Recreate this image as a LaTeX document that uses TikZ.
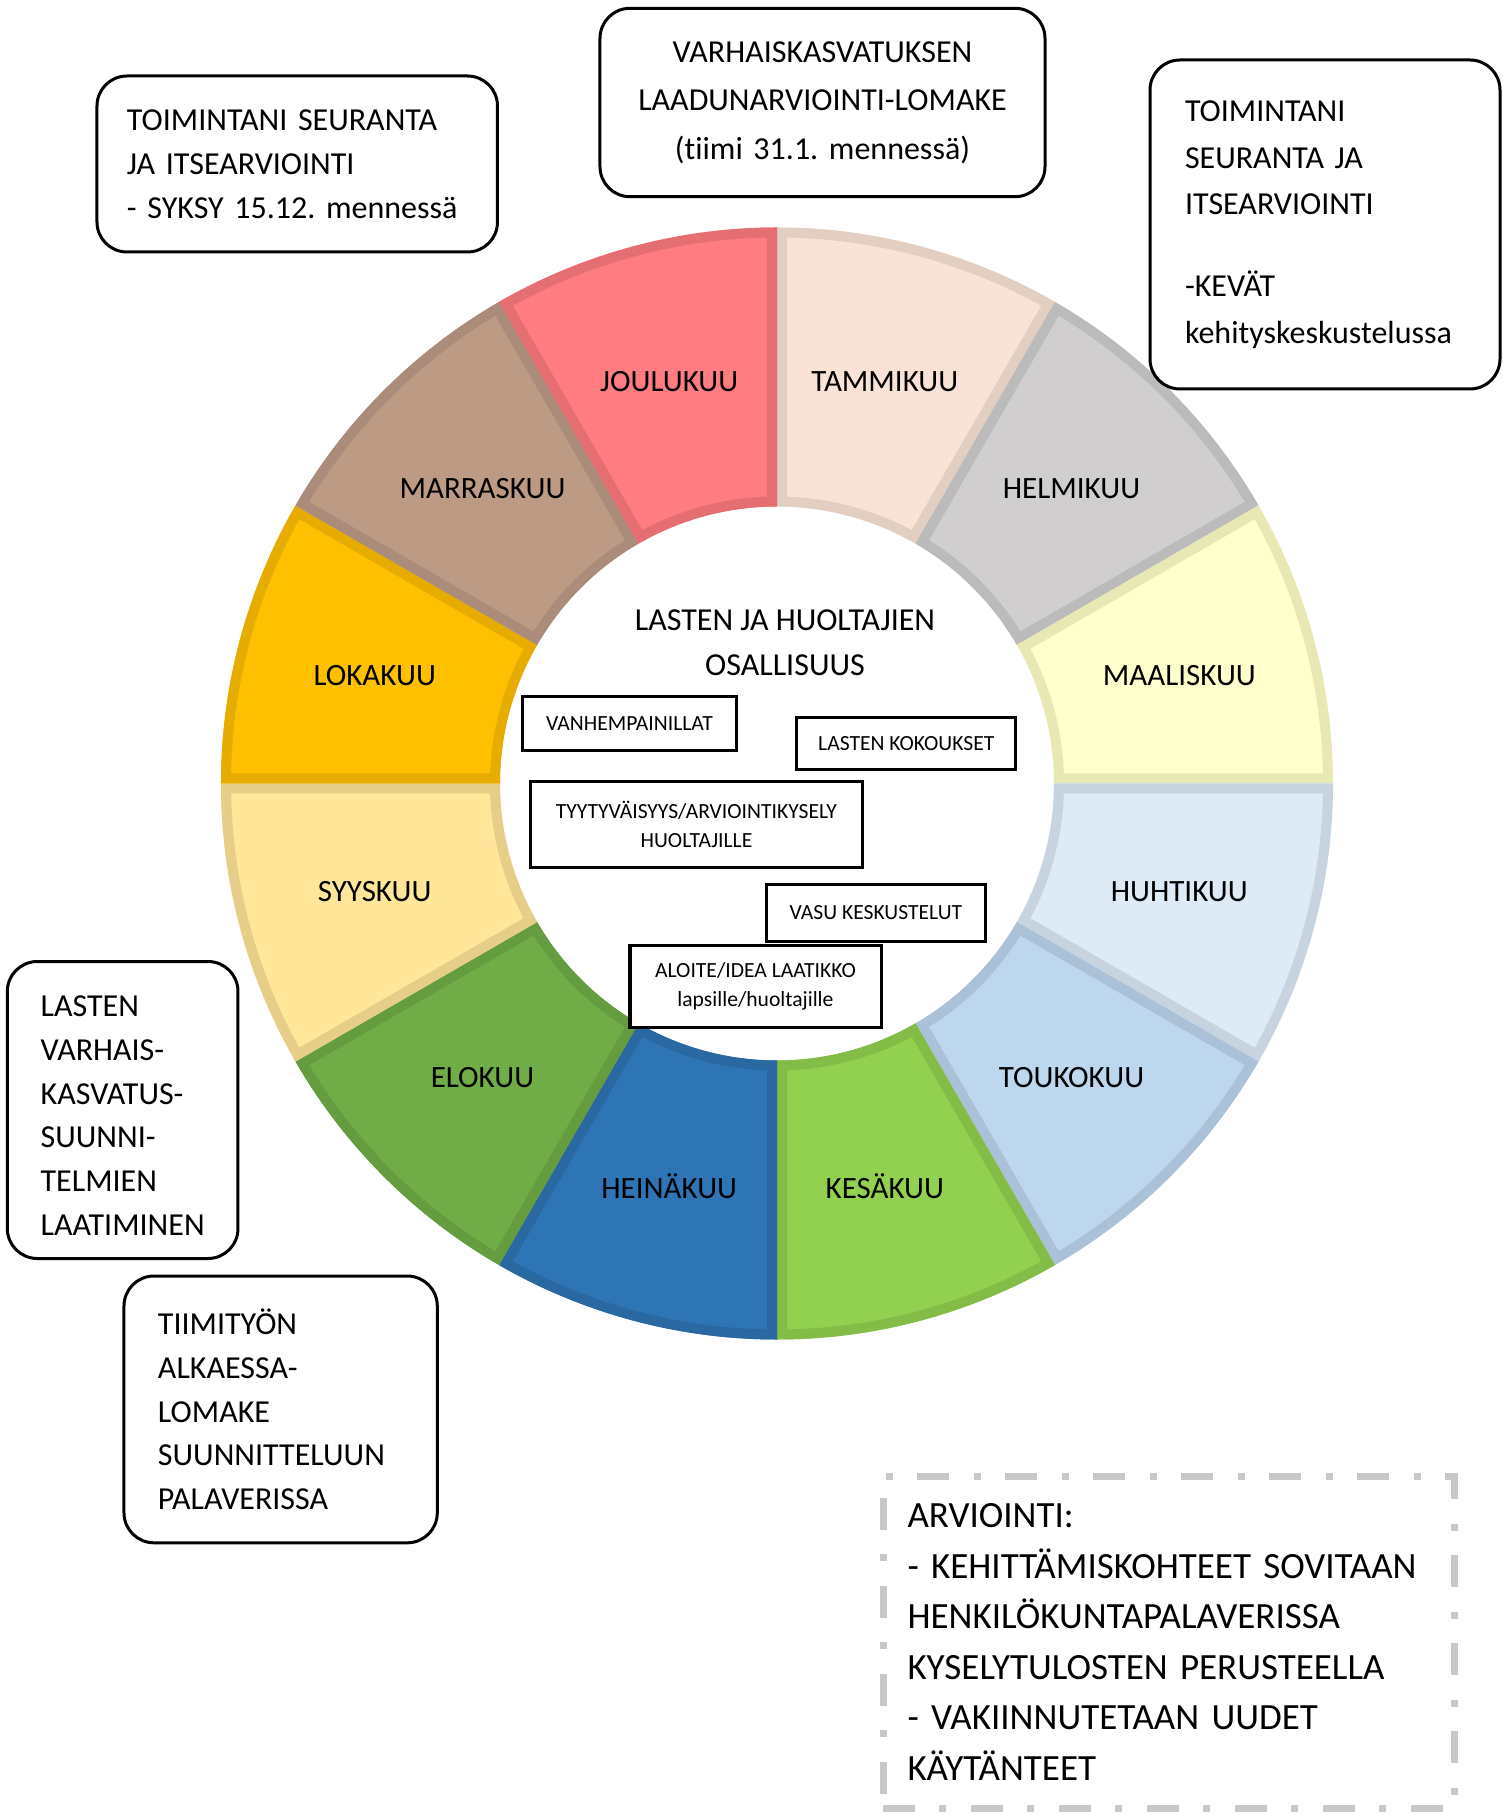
\documentclass[tikz,border=0pt]{standalone}
\usepackage{fontspec}
\setmainfont[Ligatures=NoCommon]{Carlito}
\hyphenpenalty=10000
\exhyphenpenalty=10000
\frenchspacing

% month colours: fill and rim
\definecolor{tammiF}{HTML}{F8E3D6}  \definecolor{tammiE}{HTML}{E3CFC2}
\definecolor{helmiF}{HTML}{D0CECE}  \definecolor{helmiE}{HTML}{BCBBBB}
\definecolor{maalisF}{HTML}{FFFFCC} \definecolor{maalisE}{HTML}{E8E8B4}
\definecolor{huhtiF}{HTML}{DEEAF6}  \definecolor{huhtiE}{HTML}{C8D3E0}
\definecolor{toukoF}{HTML}{BDD7EE}  \definecolor{toukoE}{HTML}{AAC1D8}
\definecolor{kesaF}{HTML}{92D050}   \definecolor{kesaE}{HTML}{84BC48}
\definecolor{heinaF}{HTML}{2E75B6}  \definecolor{heinaE}{HTML}{2A68A2}
\definecolor{eloF}{HTML}{70AD47}    \definecolor{eloE}{HTML}{659C40}
\definecolor{syysF}{HTML}{FFE699}   \definecolor{syysE}{HTML}{E6CD88}
\definecolor{lokaF}{HTML}{FFC000}   \definecolor{lokaE}{HTML}{E6AD00}
\definecolor{marrasF}{HTML}{BD9A84} \definecolor{marrasE}{HTML}{AB8C7A}
\definecolor{jouluF}{HTML}{FF7C80}  \definecolor{jouluE}{HTML}{E56E73}
\definecolor{arvGray}{HTML}{C8C8C8}

\newcommand{\wedgepath}[1]{(#1-15:277) -- (#1-15:556) arc[start angle=#1-15, end angle=#1+15, radius=556] -- (#1+15:277) arc[start angle=#1+15, end angle=#1-15, radius=277] -- cycle}

\begin{document}
\begin{tikzpicture}[x=0.5pt, y=0.5pt,
    month/.style={font=\fontsize{15.5}{18}\selectfont},
    notebox/.style={draw, line width=1.5pt, rounded corners=15pt, fill=white, align=left, font=\fontsize{16}{22}\selectfont},
    smallbox/.style={draw, line width=1.5pt, fill=white, align=center, inner sep=0pt, font=\fontsize{10.8}{14.5}\selectfont}]

    \fill[white] (-777,-1030.5) rectangle (726,783.5);
    \useasboundingbox (-777,-1030.5) rectangle (726,783.5);

    % year wheel
    \foreach \ang/\key/\fillc/\edgec/\mname in {75/tammi/tammiF/tammiE/TAMMIKUU, 45/helmi/helmiF/helmiE/HELMIKUU, 15/maalis/maalisF/maalisE/MAALISKUU, -15/huhti/huhtiF/huhtiE/HUHTIKUU, -45/touko/toukoF/toukoE/TOUKOKUU, -75/kesa/kesaF/kesaE/KESÄKUU, -105/heina/heinaF/heinaE/HEINÄKUU, -135/elo/eloF/eloE/ELOKUU, -165/syys/syysF/syysE/SYYSKUU, 165/loka/lokaF/lokaE/LOKAKUU, 135/marras/marrasF/marrasE/MARRASKUU, 105/joulu/jouluF/jouluE/JOULUKUU}{
        \fill[\fillc] \wedgepath{\ang};
        \begin{scope}
            \clip \wedgepath{\ang};
            \draw[\edgec, line width=10pt] \wedgepath{\ang};
        \end{scope}
        \node[month] (\key) at (\ang:416.5) {\mname};
    }

    % centre
    \node[font=\fontsize{16}{22.5}\selectfont, align=center] (osallisuus) at (8,141) {LASTEN JA HUOLTAJIEN\\OSALLISUUS};
    \node[smallbox, minimum width=106.5pt, minimum height=27pt] (illat) at (-147.5,59.8) {VANHEMPAINILLAT};
    \node[smallbox, minimum width=109.45pt, minimum height=26.15pt] (kokoukset) at (129.25,39.65) {LASTEN KOKOUKSET};
    \node[smallbox, minimum width=165.5pt, minimum height=42.8pt] (kysely) at (-80.5,-41) {TYYTYVÄISYYS/ARVIOINTIKYSELY\\HUOLTAJILLE};
    \node[smallbox, minimum width=109.5pt, minimum height=28.35pt] (vasukesk) at (98.9,-129.15) {VASU KESKUSTELUT};
    \node[smallbox, minimum width=125.5pt, minimum height=41.35pt] (aloite) at (-21.5,-202.85) {ALOITE/IDEA LAATIKKO\\lapsille/huoltajille};

    % notes round the wheel
    \node[notebox, minimum width=200.25pt, minimum height=88pt, text width=170.25pt] (syksy) at (-479.75,619.5) {TOIMINTANI SEURANTA\\JA ITSEARVIOINTI\\- SYKSY 15.12. mennessä};
    \node[notebox, align=center, minimum width=222.5pt, minimum height=94.2pt, text width=200pt, font=\fontsize{16}{24.2}\selectfont] (laatu) at (45.5,681) {VARHAISKASVATUKSEN\\LAADUNARVIOINTI-LOMAKE\\(tiimi 31.1. mennessä)};
    \node[notebox, minimum width=175pt, minimum height=164.5pt, text width=140pt, font=\fontsize{16}{23.25}\selectfont] (kevat) at (548,559) {TOIMINTANI\\SEURANTA JA\\ITSEARVIOINTI\\[17.75pt]-KEVÄT\\kehityskeskustelussa};
    \node[notebox, minimum width=115.35pt, minimum height=148.5pt, text width=82pt, font=\fontsize{16}{21.9}\selectfont] (vasu) at (-654.35,-326.5) {\rule{0pt}{16pt}LASTEN\\VARHAIS-\\KASVATUS-\\SUUNNI-\\TELMIEN\\LAATIMINEN};
    \node[notebox, minimum width=156.65pt, minimum height=133.4pt, text width=122.65pt, font=\fontsize{16}{21.9}\selectfont] (tiimi) at (-496.35,-625.9) {TIIMITYÖN\\ALKAESSA-\\LOMAKE\\SUUNNITTELUUN\\PALAVERISSA};
    \node[draw=arvGray, line width=3.5pt, dash pattern=on 16pt off 12pt on 3.5pt off 12.5pt, align=left, minimum width=285.5pt, minimum height=166pt, text width=261pt, font=\fontsize{18.5}{25.3}\selectfont] (arviointi) at (391.5,-858.5) {ARVIOINTI:\\-~KEHITTÄMISKOHTEET~SOVITAAN\\HENKILÖKUNTAPALAVERISSA\\KYSELYTULOSTEN~PERUSTEELLA\\-~VAKIINNUTETAAN~UUDET\\KÄYTÄNTEET};
\end{tikzpicture}
\end{document}
